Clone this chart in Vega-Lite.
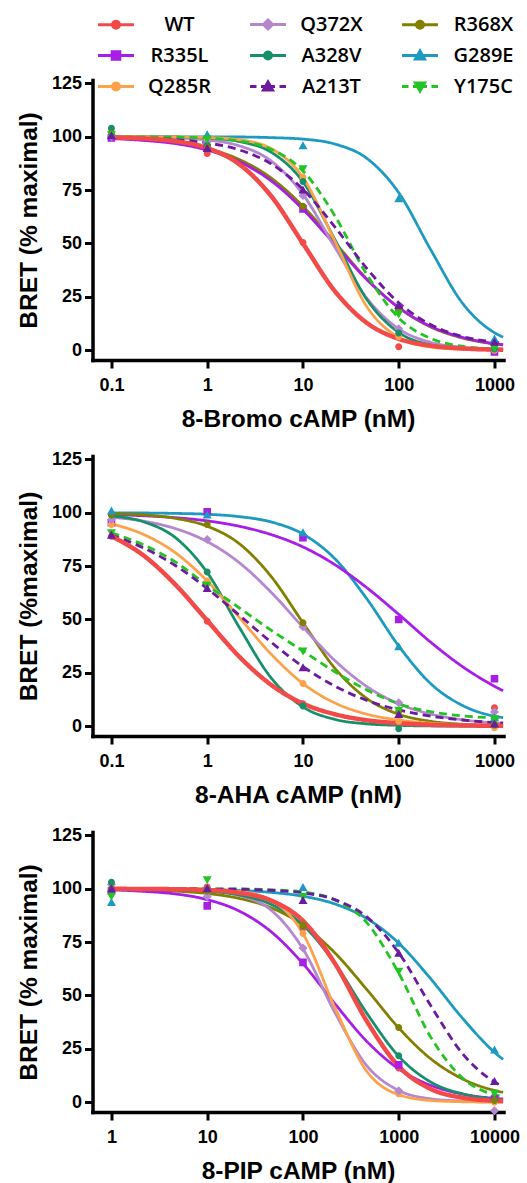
{
"$schema": "https://vega.github.io/schema/vega-lite/v6.json",
"padding": {"left": 15.5, "top": 13, "right": 0, "bottom": 0},
"bounds": "flush",
"spacing": 96,
"config": {
  "font": "Liberation Sans",
  "view": {"stroke": null},
  "axis": {"domainColor": "black", "domainWidth": 3.5, "domainCap": "square", "tickColor": "black", "tickWidth": 3, "tickSize": 8, "labelFont": "Liberation Sans", "labelFontWeight": "bold", "labelFontSize": 18, "labelColor": "black", "titleFont": "Liberation Sans", "titleFontWeight": "bold", "titleFontSize": 24.5, "titleColor": "black", "grid": false, "labelOverlap": false},
  "axisX": {"labelPadding": 8, "titlePadding": 13, "labelFlush": false},
  "axisY": {"labelPadding": 3, "titlePadding": 10}
},
"datasets": {
"c1": [
{"s":"G289E","x":0.1,"y":100},{"s":"G289E","x":0.215,"y":100},{"s":"G289E","x":0.464,"y":100},{"s":"G289E","x":1,"y":99.9},{"s":"G289E","x":2.15,"y":99.9},{"s":"G289E","x":4.64,"y":99.6},{"s":"G289E","x":10,"y":98.9},{"s":"G289E","x":21.5,"y":96.6},{"s":"G289E","x":46.4,"y":89.9},{"s":"G289E","x":100,"y":73.8},{"s":"G289E","x":215,"y":47.2},{"s":"G289E","x":464,"y":22.0},{"s":"G289E","x":1000,"y":8.2},{"s":"G289E","x":1230,"y":6.1},
{"s":"R368X","x":0.1,"y":99.3},{"s":"R368X","x":0.215,"y":98.6},{"s":"R368X","x":0.464,"y":97.2},{"s":"R368X","x":1,"y":94.5},{"s":"R368X","x":2.15,"y":89.4},{"s":"R368X","x":4.64,"y":80.7},{"s":"R368X","x":10,"y":67.4},{"s":"R368X","x":21.5,"y":50.5},{"s":"R368X","x":46.4,"y":33.4},{"s":"R368X","x":100,"y":19.9},{"s":"R368X","x":215,"y":10.9},{"s":"R368X","x":464,"y":5.7},{"s":"R368X","x":1000,"y":2.9},{"s":"R368X","x":1230,"y":2.4},
{"s":"R335L","x":0.1,"y":99.2},{"s":"R335L","x":0.215,"y":98.3},{"s":"R335L","x":0.464,"y":96.8},{"s":"R335L","x":1,"y":93.8},{"s":"R335L","x":2.15,"y":88.4},{"s":"R335L","x":4.64,"y":79.4},{"s":"R335L","x":10,"y":66.0},{"s":"R335L","x":21.5,"y":49.6},{"s":"R335L","x":46.4,"y":33.1},{"s":"R335L","x":100,"y":20.0},{"s":"R335L","x":215,"y":11.2},{"s":"R335L","x":464,"y":6.0},{"s":"R335L","x":1000,"y":3.1},{"s":"R335L","x":1230,"y":2.6},
{"s":"Q372X","x":0.1,"y":99.9},{"s":"Q372X","x":0.215,"y":99.8},{"s":"Q372X","x":0.464,"y":99.5},{"s":"Q372X","x":1,"y":98.5},{"s":"Q372X","x":2.15,"y":95.8},{"s":"Q372X","x":4.64,"y":88.7},{"s":"Q372X","x":10,"y":73.0},{"s":"Q372X","x":21.5,"y":48.3},{"s":"Q372X","x":46.4,"y":24.4},{"s":"Q372X","x":100,"y":10.0},{"s":"Q372X","x":215,"y":3.7},{"s":"Q372X","x":464,"y":1.3},{"s":"Q372X","x":1000,"y":0.5},{"s":"Q372X","x":1230,"y":0.34},
{"s":"A328V","x":0.1,"y":100},{"s":"A328V","x":0.215,"y":99.9},{"s":"A328V","x":0.464,"y":99.8},{"s":"A328V","x":1,"y":99.4},{"s":"A328V","x":2.15,"y":97.8},{"s":"A328V","x":4.64,"y":92.8},{"s":"A328V","x":10,"y":78.9},{"s":"A328V","x":21.5,"y":51.9},{"s":"A328V","x":46.4,"y":23.8},{"s":"A328V","x":100,"y":8.3},{"s":"A328V","x":215,"y":2.5},{"s":"A328V","x":464,"y":0.7},{"s":"A328V","x":1000,"y":0.2},{"s":"A328V","x":1230,"y":0.15},
{"s":"Q285R","x":0.1,"y":100},{"s":"Q285R","x":0.215,"y":100},{"s":"Q285R","x":0.464,"y":99.9},{"s":"Q285R","x":1,"y":99.65},{"s":"Q285R","x":2.15,"y":98.6},{"s":"Q285R","x":4.64,"y":94.5},{"s":"Q285R","x":10,"y":80.9},{"s":"Q285R","x":21.5,"y":51.2},{"s":"Q285R","x":46.4,"y":20.4},{"s":"Q285R","x":100,"y":6.0},{"s":"Q285R","x":215,"y":1.5},{"s":"Q285R","x":464,"y":0.4},{"s":"Q285R","x":1000,"y":0.1},{"s":"Q285R","x":1230,"y":0.06},
{"s":"Y175C","x":0.1,"y":100},{"s":"Y175C","x":0.215,"y":99.9},{"s":"Y175C","x":0.464,"y":99.8},{"s":"Y175C","x":1,"y":99.35},{"s":"Y175C","x":2.15,"y":98.0},{"s":"Y175C","x":4.64,"y":94.2},{"s":"Y175C","x":10,"y":84.0},{"s":"Y175C","x":21.5,"y":63.0},{"s":"Y175C","x":46.4,"y":35.5},{"s":"Y175C","x":100,"y":15.1},{"s":"Y175C","x":215,"y":5.5},{"s":"Y175C","x":464,"y":1.8},{"s":"Y175C","x":1000,"y":0.6},{"s":"Y175C","x":1230,"y":0.44},
{"s":"A213T","x":0.1,"y":99.7},{"s":"A213T","x":0.215,"y":99.4},{"s":"A213T","x":0.464,"y":98.7},{"s":"A213T","x":1,"y":97.1},{"s":"A213T","x":2.15,"y":93.9},{"s":"A213T","x":4.64,"y":87.3},{"s":"A213T","x":10,"y":75.4},{"s":"A213T","x":21.5,"y":57.8},{"s":"A213T","x":46.4,"y":38.3},{"s":"A213T","x":100,"y":22.2},{"s":"A213T","x":215,"y":12.0},{"s":"A213T","x":464,"y":6.4},{"s":"A213T","x":1000,"y":3.8},{"s":"A213T","x":1230,"y":3.3},
{"s":"WT","x":0.1,"y":99.7},{"s":"WT","x":0.215,"y":99.2},{"s":"WT","x":0.464,"y":97.9},{"s":"WT","x":1,"y":94.7},{"s":"WT","x":2.15,"y":87.2},{"s":"WT","x":4.64,"y":72.3},{"s":"WT","x":10,"y":50},{"s":"WT","x":21.5,"y":27.7},{"s":"WT","x":46.4,"y":12.8},{"s":"WT","x":100,"y":5.3},{"s":"WT","x":215,"y":2.1},{"s":"WT","x":464,"y":0.8},{"s":"WT","x":1000,"y":0.3},{"s":"WT","x":1230,"y":0.24}
],
"c2": [
{"s":"G289E","x":0.1,"y":99.95},{"s":"G289E","x":0.215,"y":99.9},{"s":"G289E","x":0.464,"y":99.7},{"s":"G289E","x":1,"y":99.3},{"s":"G289E","x":2.15,"y":98.2},{"s":"G289E","x":4.64,"y":95.7},{"s":"G289E","x":10,"y":90.0},{"s":"G289E","x":21.5,"y":78.5},{"s":"G289E","x":46.4,"y":59.7},{"s":"G289E","x":100,"y":37.6},{"s":"G289E","x":215,"y":20.0},{"s":"G289E","x":464,"y":9.7},{"s":"G289E","x":1000,"y":4.7},{"s":"G289E","x":1230,"y":4.0},
{"s":"R335L","x":0.1,"y":99.2},{"s":"R335L","x":0.215,"y":98.6},{"s":"R335L","x":0.464,"y":97.7},{"s":"R335L","x":1,"y":96.2},{"s":"R335L","x":2.15,"y":93.7},{"s":"R335L","x":4.64,"y":89.8},{"s":"R335L","x":10,"y":84.0},{"s":"R335L","x":21.5,"y":75.7},{"s":"R335L","x":46.4,"y":64.9},{"s":"R335L","x":100,"y":52.4},{"s":"R335L","x":215,"y":39.4},{"s":"R335L","x":464,"y":27.9},{"s":"R335L","x":1000,"y":18.7},{"s":"R335L","x":1230,"y":16.6},
{"s":"R368X","x":0.1,"y":99.6},{"s":"R368X","x":0.215,"y":99.0},{"s":"R368X","x":0.464,"y":97.4},{"s":"R368X","x":1,"y":93.7},{"s":"R368X","x":2.15,"y":85.6},{"s":"R368X","x":4.64,"y":70.2},{"s":"R368X","x":10,"y":48.5},{"s":"R368X","x":21.5,"y":27.2},{"s":"R368X","x":46.4,"y":13.0},{"s":"R368X","x":100,"y":5.6},{"s":"R368X","x":215,"y":2.3},{"s":"R368X","x":464,"y":0.9},{"s":"R368X","x":1000,"y":0.4},{"s":"R368X","x":1230,"y":0.3},
{"s":"Q372X","x":0.1,"y":97.9},{"s":"Q372X","x":0.215,"y":96.1},{"s":"Q372X","x":0.464,"y":92.6},{"s":"Q372X","x":1,"y":86.5},{"s":"Q372X","x":2.15,"y":76.7},{"s":"Q372X","x":4.64,"y":62.8},{"s":"Q372X","x":10,"y":46.4},{"s":"Q372X","x":21.5,"y":30.8},{"s":"Q372X","x":46.4,"y":18.6},{"s":"Q372X","x":100,"y":10.5},{"s":"Q372X","x":215,"y":5.7},{"s":"Q372X","x":464,"y":3.0},{"s":"Q372X","x":1000,"y":1.55},{"s":"Q372X","x":1230,"y":1.3},
{"s":"A328V","x":0.1,"y":98.5},{"s":"A328V","x":0.215,"y":95.8},{"s":"A328V","x":0.464,"y":88.4},{"s":"A328V","x":1,"y":72.0},{"s":"A328V","x":2.15,"y":46.5},{"s":"A328V","x":4.64,"y":22.7},{"s":"A328V","x":10,"y":9.0},{"s":"A328V","x":21.5,"y":3.2},{"s":"A328V","x":46.4,"y":1.1},{"s":"A328V","x":100,"y":0.4},{"s":"A328V","x":215,"y":0.1},{"s":"A328V","x":464,"y":0.04},{"s":"A328V","x":1000,"y":0.01},{"s":"A328V","x":1230,"y":0.01},
{"s":"Q285R","x":0.1,"y":94.8},{"s":"Q285R","x":0.215,"y":89.9},{"s":"Q285R","x":0.464,"y":81.3},{"s":"Q285R","x":1,"y":68.0},{"s":"Q285R","x":2.15,"y":51.1},{"s":"Q285R","x":4.64,"y":33.8},{"s":"Q285R","x":10,"y":20.0},{"s":"Q285R","x":21.5,"y":10.9},{"s":"Q285R","x":46.4,"y":5.65},{"s":"Q285R","x":100,"y":2.9},{"s":"Q285R","x":215,"y":1.4},{"s":"Q285R","x":464,"y":0.7},{"s":"Q285R","x":1000,"y":0.34},{"s":"Q285R","x":1230,"y":0.28},
{"s":"Y175C","x":0.1,"y":90.6},{"s":"Y175C","x":0.215,"y":85},{"s":"Y175C","x":0.464,"y":77},{"s":"Y175C","x":1,"y":66},{"s":"Y175C","x":2.15,"y":55.5},{"s":"Y175C","x":4.64,"y":45},{"s":"Y175C","x":10,"y":35.2},{"s":"Y175C","x":21.5,"y":25.5},{"s":"Y175C","x":46.4,"y":17},{"s":"Y175C","x":100,"y":10.5},{"s":"Y175C","x":215,"y":6.8},{"s":"Y175C","x":464,"y":4.8},{"s":"Y175C","x":1000,"y":3.9},{"s":"Y175C","x":1230,"y":3.7},
{"s":"A213T","x":0.1,"y":89.5},{"s":"A213T","x":0.215,"y":83.6},{"s":"A213T","x":0.464,"y":75.3},{"s":"A213T","x":1,"y":64.5},{"s":"A213T","x":2.15,"y":52.1},{"s":"A213T","x":4.64,"y":39.4},{"s":"A213T","x":10,"y":27.9},{"s":"A213T","x":21.5,"y":18.8},{"s":"A213T","x":46.4,"y":12.1},{"s":"A213T","x":100,"y":7.6},{"s":"A213T","x":215,"y":4.7},{"s":"A213T","x":464,"y":2.9},{"s":"A213T","x":1000,"y":1.7},{"s":"A213T","x":1230,"y":1.5},
{"s":"WT","x":0.1,"y":89.0},{"s":"WT","x":0.215,"y":80.1},{"s":"WT","x":0.464,"y":66.4},{"s":"WT","x":1,"y":49.5},{"s":"WT","x":2.15,"y":32.7},{"s":"WT","x":4.64,"y":19.4},{"s":"WT","x":10,"y":10.6},{"s":"WT","x":21.5,"y":5.6},{"s":"WT","x":46.4,"y":2.8},{"s":"WT","x":100,"y":1.4},{"s":"WT","x":215,"y":0.7},{"s":"WT","x":464,"y":0.35},{"s":"WT","x":1000,"y":0.18},{"s":"WT","x":1230,"y":0.14}
],
"c3": [
{"s":"G289E","x":1,"y":100},{"s":"G289E","x":2.15,"y":99.9},{"s":"G289E","x":4.64,"y":99.8},{"s":"G289E","x":10,"y":99.6},{"s":"G289E","x":21.5,"y":99.2},{"s":"G289E","x":46.4,"y":98.3},{"s":"G289E","x":100,"y":96.5},{"s":"G289E","x":215,"y":92.9},{"s":"G289E","x":464,"y":86.1},{"s":"G289E","x":1000,"y":74.5},{"s":"G289E","x":2150,"y":57.9},{"s":"G289E","x":4640,"y":39.3},{"s":"G289E","x":10000,"y":23.4},{"s":"G289E","x":12300,"y":20.0},
{"s":"R368X","x":1,"y":99.75},{"s":"R368X","x":2.15,"y":99.5},{"s":"R368X","x":4.64,"y":98.9},{"s":"R368X","x":10,"y":97.8},{"s":"R368X","x":21.5,"y":95.5},{"s":"R368X","x":46.4,"y":91.1},{"s":"R368X","x":100,"y":83.0},{"s":"R368X","x":215,"y":70.0},{"s":"R368X","x":464,"y":52.8},{"s":"R368X","x":1000,"y":34.8},{"s":"R368X","x":2150,"y":20.4},{"s":"R368X","x":4640,"y":10.9},{"s":"R368X","x":10000,"y":5.5},{"s":"R368X","x":12300,"y":4.6},
{"s":"R335L","x":1,"y":99.5},{"s":"R335L","x":2.15,"y":98.8},{"s":"R335L","x":4.64,"y":97.6},{"s":"R335L","x":10,"y":94.9},{"s":"R335L","x":21.5,"y":89.6},{"s":"R335L","x":46.4,"y":79.9},{"s":"R335L","x":100,"y":64.9},{"s":"R335L","x":215,"y":46.2},{"s":"R335L","x":464,"y":28.5},{"s":"R335L","x":1000,"y":15.6},{"s":"R335L","x":2150,"y":7.9},{"s":"R335L","x":4640,"y":3.8},{"s":"R335L","x":10000,"y":1.8},{"s":"R335L","x":12300,"y":1.5},
{"s":"Q372X","x":1,"y":100},{"s":"Q372X","x":2.15,"y":99.9},{"s":"Q372X","x":4.64,"y":99.7},{"s":"Q372X","x":10,"y":99.1},{"s":"Q372X","x":21.5,"y":96.9},{"s":"Q372X","x":46.4,"y":90.0},{"s":"Q372X","x":100,"y":71.8},{"s":"Q372X","x":215,"y":42.1},{"s":"Q372X","x":464,"y":17.1},{"s":"Q372X","x":1000,"y":5.5},{"s":"Q372X","x":2150,"y":1.6},{"s":"Q372X","x":4640,"y":0.5},{"s":"Q372X","x":10000,"y":0.1},{"s":"Q372X","x":12300,"y":0.1},
{"s":"A328V","x":1,"y":99.9},{"s":"A328V","x":2.15,"y":99.8},{"s":"A328V","x":4.64,"y":99.6},{"s":"A328V","x":10,"y":98.9},{"s":"A328V","x":21.5,"y":97.1},{"s":"A328V","x":46.4,"y":92.7},{"s":"A328V","x":100,"y":83.0},{"s":"A328V","x":215,"y":65.1},{"s":"A328V","x":464,"y":41.7},{"s":"A328V","x":1000,"y":21.5},{"s":"A328V","x":2150,"y":9.5},{"s":"A328V","x":4640,"y":3.9},{"s":"A328V","x":10000,"y":1.5},{"s":"A328V","x":12300,"y":1.2},
{"s":"Q285R","x":1,"y":100},{"s":"Q285R","x":2.15,"y":100},{"s":"Q285R","x":4.64,"y":99.9},{"s":"Q285R","x":10,"y":99.7},{"s":"Q285R","x":21.5,"y":98.8},{"s":"Q285R","x":46.4,"y":94.7},{"s":"Q285R","x":100,"y":79.0},{"s":"Q285R","x":215,"y":44.4},{"s":"Q285R","x":464,"y":14.5},{"s":"Q285R","x":1000,"y":3.5},{"s":"Q285R","x":2150,"y":0.8},{"s":"Q285R","x":4640,"y":0.2},{"s":"Q285R","x":10000,"y":0.03},{"s":"Q285R","x":12300,"y":0.02},
{"s":"Y175C","x":1,"y":100},{"s":"Y175C","x":2.15,"y":100},{"s":"Y175C","x":4.64,"y":100},{"s":"Y175C","x":10,"y":100},{"s":"Y175C","x":21.5,"y":99.9},{"s":"Y175C","x":46.4,"y":99.5},{"s":"Y175C","x":100,"y":98.5},{"s":"Y175C","x":215,"y":94.8},{"s":"Y175C","x":464,"y":84.1},{"s":"Y175C","x":1000,"y":60.5},{"s":"Y175C","x":2150,"y":30.6},{"s":"Y175C","x":4640,"y":11.3},{"s":"Y175C","x":10000,"y":3.5},{"s":"Y175C","x":12300,"y":2.6},
{"s":"A213T","x":1,"y":100},{"s":"A213T","x":2.15,"y":100},{"s":"A213T","x":4.64,"y":100},{"s":"A213T","x":10,"y":99.9},{"s":"A213T","x":21.5,"y":99.8},{"s":"A213T","x":46.4,"y":99.3},{"s":"A213T","x":100,"y":98.1},{"s":"A213T","x":215,"y":94.9},{"s":"A213T","x":464,"y":86.8},{"s":"A213T","x":1000,"y":70.0},{"s":"A213T","x":2150,"y":45.4},{"s":"A213T","x":4640,"y":22.7},{"s":"A213T","x":10000,"y":9.5},{"s":"A213T","x":12300,"y":7.3},
{"s":"WT","x":1,"y":100},{"s":"WT","x":2.15,"y":99.9},{"s":"WT","x":4.64,"y":99.8},{"s":"WT","x":10,"y":99.4},{"s":"WT","x":21.5,"y":98.1},{"s":"WT","x":46.4,"y":94.5},{"s":"WT","x":100,"y":85.0},{"s":"WT","x":215,"y":65.1},{"s":"WT","x":464,"y":38.0},{"s":"WT","x":1000,"y":16.8},{"s":"WT","x":2150,"y":6.2},{"s":"WT","x":4640,"y":2.1},{"s":"WT","x":10000,"y":0.7},{"s":"WT","x":12300,"y":0.5}
],
"m1": [
{"s":"WT","x":0.1,"y":100},{"s":"WT","x":1,"y":92.2},{"s":"WT","x":10,"y":50.5},{"s":"WT","x":100,"y":1.6},{"s":"WT","x":1000,"y":0.3},
{"s":"R335L","x":0.1,"y":99.5},{"s":"R335L","x":1,"y":94.8},{"s":"R335L","x":10,"y":66.2},{"s":"R335L","x":100,"y":20},{"s":"R335L","x":1000,"y":-0.8},
{"s":"Q285R","x":0.1,"y":102.5},{"s":"Q285R","x":1,"y":99},{"s":"Q285R","x":10,"y":81},{"s":"Q285R","x":100,"y":6.3},{"s":"Q285R","x":1000,"y":0},
{"s":"Q372X","x":0.1,"y":100},{"s":"Q372X","x":1,"y":97.5},{"s":"Q372X","x":10,"y":72.5},{"s":"Q372X","x":100,"y":10},{"s":"Q372X","x":1000,"y":1},
{"s":"A328V","x":0.1,"y":104},{"s":"A328V","x":1,"y":96},{"s":"A328V","x":10,"y":79},{"s":"A328V","x":100,"y":8},{"s":"A328V","x":1000,"y":0.5},
{"s":"R368X","x":0.1,"y":101.5},{"s":"R368X","x":1,"y":95},{"s":"R368X","x":10,"y":67.5},{"s":"R368X","x":100,"y":19},{"s":"R368X","x":1000,"y":2},
{"s":"G289E","x":0.1,"y":101},{"s":"G289E","x":1,"y":101},{"s":"G289E","x":10,"y":95.8},{"s":"G289E","x":100,"y":70.9},{"s":"G289E","x":1000,"y":5.2},
{"s":"Y175C","x":0.1,"y":101},{"s":"Y175C","x":1,"y":99},{"s":"Y175C","x":10,"y":85},{"s":"Y175C","x":100,"y":17},{"s":"Y175C","x":1000,"y":1},
{"s":"A213T","x":0.1,"y":100.5},{"s":"A213T","x":1,"y":94.5},{"s":"A213T","x":10,"y":75},{"s":"A213T","x":100,"y":20.9},{"s":"A213T","x":1000,"y":3.7}
],
"m2": [
{"s":"WT","x":0.1,"y":89},{"s":"WT","x":1,"y":49.2},{"s":"WT","x":10,"y":10.5},{"s":"WT","x":100,"y":1.5},{"s":"WT","x":1000,"y":8.6},
{"s":"R335L","x":0.1,"y":95.3},{"s":"R335L","x":1,"y":100.5},{"s":"R335L","x":10,"y":88.3},{"s":"R335L","x":100,"y":50},{"s":"R335L","x":1000,"y":22.2},
{"s":"Q285R","x":0.1,"y":94.5},{"s":"Q285R","x":1,"y":68},{"s":"Q285R","x":10,"y":20},{"s":"Q285R","x":100,"y":2.3},{"s":"Q285R","x":1000,"y":-0.7},
{"s":"Q372X","x":0.1,"y":96.9},{"s":"Q372X","x":1,"y":87.5},{"s":"Q372X","x":10,"y":46.6},{"s":"Q372X","x":100,"y":11},{"s":"Q372X","x":1000,"y":6.6},
{"s":"A328V","x":0.1,"y":99},{"s":"A328V","x":1,"y":72.2},{"s":"A328V","x":10,"y":9.4},{"s":"A328V","x":100,"y":-1.2},{"s":"A328V","x":1000,"y":0.5},
{"s":"R368X","x":0.1,"y":99.2},{"s":"R368X","x":1,"y":94.5},{"s":"R368X","x":10,"y":48.5},{"s":"R368X","x":100,"y":7},{"s":"R368X","x":1000,"y":1},
{"s":"G289E","x":0.1,"y":100.8},{"s":"G289E","x":1,"y":99},{"s":"G289E","x":10,"y":90.6},{"s":"G289E","x":100,"y":37.2},{"s":"G289E","x":1000,"y":4},
{"s":"Y175C","x":0.1,"y":90.6},{"s":"Y175C","x":1,"y":66},{"s":"Y175C","x":10,"y":35.2},{"s":"Y175C","x":100,"y":7.5},{"s":"Y175C","x":1000,"y":3.5},
{"s":"A213T","x":0.1,"y":89.5},{"s":"A213T","x":1,"y":64.5},{"s":"A213T","x":10,"y":27.4},{"s":"A213T","x":100,"y":5.5},{"s":"A213T","x":1000,"y":1}
],
"m3": [
{"s":"WT","x":1,"y":99},{"s":"WT","x":10,"y":100.8},{"s":"WT","x":100,"y":81.5},{"s":"WT","x":1000,"y":16},{"s":"WT","x":10000,"y":0.5},
{"s":"R335L","x":1,"y":99},{"s":"R335L","x":10,"y":92},{"s":"R335L","x":100,"y":65.5},{"s":"R335L","x":1000,"y":17.5},{"s":"R335L","x":10000,"y":1.5},
{"s":"Q285R","x":1,"y":102.5},{"s":"Q285R","x":10,"y":98.6},{"s":"Q285R","x":100,"y":79},{"s":"Q285R","x":1000,"y":3.9},{"s":"Q285R","x":10000,"y":0},
{"s":"Q372X","x":1,"y":102},{"s":"Q372X","x":10,"y":96.4},{"s":"Q372X","x":100,"y":72.2},{"s":"Q372X","x":1000,"y":5.3},{"s":"Q372X","x":10000,"y":-4},
{"s":"A328V","x":1,"y":103},{"s":"A328V","x":10,"y":99.5},{"s":"A328V","x":100,"y":82.7},{"s":"A328V","x":1000,"y":21.7},{"s":"A328V","x":10000,"y":1},
{"s":"R368X","x":1,"y":100},{"s":"R368X","x":10,"y":99},{"s":"R368X","x":100,"y":83},{"s":"R368X","x":1000,"y":35},{"s":"R368X","x":10000,"y":0.8},
{"s":"G289E","x":1,"y":93.6},{"s":"G289E","x":10,"y":100},{"s":"G289E","x":100,"y":100.6},{"s":"G289E","x":1000,"y":74.5},{"s":"G289E","x":10000,"y":24.5},
{"s":"Y175C","x":1,"y":96.5},{"s":"Y175C","x":10,"y":104.2},{"s":"Y175C","x":100,"y":96.4},{"s":"Y175C","x":1000,"y":61.3},{"s":"Y175C","x":10000,"y":4.2},
{"s":"A213T","x":1,"y":100},{"s":"A213T","x":10,"y":100},{"s":"A213T","x":100,"y":94.5},{"s":"A213T","x":1000,"y":69.8},{"s":"A213T","x":10000,"y":9.7}
]
},
"vconcat": [
{
 "width": 411, "height": 280,
 "encoding": {
  "x": {"field": "x", "type": "quantitative", "title": "8-Bromo cAMP (nM)", "scale": {"type": "log", "domain": [0.0634, 1242], "nice": false}, "axis": {"values": [0.1, 1, 10, 100, 1000], "format": "~g"}},
  "y": {"field": "y", "type": "quantitative", "title": "BRET (% maximal)", "scale": {"domain": [-4.6, 126.6], "nice": false, "zero": false}, "axis": {"values": [0, 25, 50, 75, 100, 125]}}
 },
 "layer": [
  {"data": {"name": "c1"}, "mark": {"type": "line", "interpolate": "monotone"},
   "encoding": {
    "color": {"field": "s", "type": "nominal", "scale": {"domain": ["WT","Q372X","R368X","R335L","A328V","G289E","Q285R","A213T","Y175C"], "range": ["#F24A48","#B487CF","#828000","#A81EE6","#16906A","#1D9AC0","#FDA24B","#6A1BA0","#23C423"]},
      "legend": {"title": null, "orient": "none", "legendX": 12, "legendY": -67, "direction": "horizontal", "columns": 3, "gridAlign": "all", "columnPadding": 32, "rowPadding": 9, "padding": 0, "symbolSize": 400, "symbolStrokeWidth": 3, "labelOffset": 52, "labelAlign": "center", "labelFont": "Open Sans", "labelFontWeight": 600, "labelFontSize": 20, "labelColor": "black"}},
    "strokeDash": {"field": "s", "type": "nominal", "scale": {"domain": ["A213T","A328V","G289E","Q285R","Q372X","R335L","R368X","WT","Y175C"], "range": [[8,5],[1,0],[1,0],[1,0],[1,0],[1,0],[1,0],[1,0],[8,5]]}, "legend": null},
    "strokeWidth": {"field": "s", "type": "nominal", "scale": {"type": "ordinal", "domain": ["A213T","A328V","G289E","Q285R","Q372X","R335L","R368X","WT","Y175C"], "range": [2.8,2.8,2.8,2.8,2.8,2.8,2.8,4.5,2.8]}, "legend": null}
   }},
  {"data": {"name": "m1"}, "mark": {"type": "point", "filled": true, "size": 400, "opacity": 1},
   "encoding": {
    "color": {"field": "s", "type": "nominal"},
    "shape": {"field": "s", "type": "nominal", "scale": {"domain": ["WT","Q372X","R368X","R335L","A328V","G289E","Q285R","A213T","Y175C"], "range": [
      "M-1.8,0L1.8,0M0.35,0A0.35,0.35,0,1,1,-0.35,0A0.35,0.35,0,1,1,0.35,0Z",
      "M-1.8,0L1.8,0M0,-0.45L0.45,0L0,0.45L-0.45,0Z",
      "M-1.8,0L1.8,0M0.35,0A0.35,0.35,0,1,1,-0.35,0A0.35,0.35,0,1,1,0.35,0Z",
      "M-1.8,0L1.8,0M-0.38,-0.38L0.38,-0.38L0.38,0.38L-0.38,0.38Z",
      "M-1.8,0L1.8,0M0.35,0A0.35,0.35,0,1,1,-0.35,0A0.35,0.35,0,1,1,0.35,0Z",
      "M-1.8,0L1.8,0M0,-0.45L0.45,0.35L-0.45,0.35Z",
      "M-1.8,0L1.8,0M0.35,0A0.35,0.35,0,1,1,-0.35,0A0.35,0.35,0,1,1,0.35,0Z",
      "M-1.8,0L-1.15,0M-0.7,0L0.7,0M1.15,0L1.8,0M0,-0.45L0.45,0.35L-0.45,0.35Z",
      "M-1.8,0L-1.15,0M-0.7,0L0.7,0M1.15,0L1.8,0M0,0.45L0.45,-0.35L-0.45,-0.35Z"]}, "legend": null}
   }}
 ]
},
{
 "width": 411, "height": 280,
 "encoding": {
  "x": {"field": "x", "type": "quantitative", "title": "8-AHA cAMP (nM)", "scale": {"type": "log", "domain": [0.0634, 1242], "nice": false}, "axis": {"values": [0.1, 1, 10, 100, 1000], "format": "~g"}},
  "y": {"field": "y", "type": "quantitative", "title": "BRET (%maximal)", "scale": {"domain": [-4.6, 126.6], "nice": false, "zero": false}, "axis": {"values": [0, 25, 50, 75, 100, 125]}}
 },
 "layer": [
  {"data": {"name": "c2"}, "mark": {"type": "line", "interpolate": "monotone"},
   "encoding": {
    "color": {"field": "s", "type": "nominal"},
    "strokeDash": {"field": "s", "type": "nominal", "scale": {"domain": ["A213T","A328V","G289E","Q285R","Q372X","R335L","R368X","WT","Y175C"], "range": [[8,5],[1,0],[1,0],[1,0],[1,0],[1,0],[1,0],[1,0],[8,5]]}, "legend": null},
    "strokeWidth": {"field": "s", "type": "nominal", "scale": {"type": "ordinal", "domain": ["A213T","A328V","G289E","Q285R","Q372X","R335L","R368X","WT","Y175C"], "range": [2.8,2.8,2.8,2.8,2.8,2.8,2.8,4.5,2.8]}, "legend": null}
   }},
  {"data": {"name": "m2"}, "mark": {"type": "point", "filled": true, "size": 400, "opacity": 1},
   "encoding": {
    "color": {"field": "s", "type": "nominal"},
    "shape": {"field": "s", "type": "nominal", "legend": null}
   }}
 ]
},
{
 "width": 411, "height": 280,
 "encoding": {
  "x": {"field": "x", "type": "quantitative", "title": "8-PIP cAMP (nM)", "scale": {"type": "log", "domain": [0.634, 12420], "nice": false}, "axis": {"values": [1, 10, 100, 1000, 10000], "format": "~g"}},
  "y": {"field": "y", "type": "quantitative", "title": "BRET (% maximal)", "scale": {"domain": [-4.6, 126.6], "nice": false, "zero": false}, "axis": {"values": [0, 25, 50, 75, 100, 125]}}
 },
 "layer": [
  {"data": {"name": "c3"}, "mark": {"type": "line", "interpolate": "monotone"},
   "encoding": {
    "color": {"field": "s", "type": "nominal"},
    "strokeDash": {"field": "s", "type": "nominal", "scale": {"domain": ["A213T","A328V","G289E","Q285R","Q372X","R335L","R368X","WT","Y175C"], "range": [[8,5],[1,0],[1,0],[1,0],[1,0],[1,0],[1,0],[1,0],[8,5]]}, "legend": null},
    "strokeWidth": {"field": "s", "type": "nominal", "scale": {"type": "ordinal", "domain": ["A213T","A328V","G289E","Q285R","Q372X","R335L","R368X","WT","Y175C"], "range": [2.8,2.8,2.8,2.8,2.8,2.8,2.8,4.5,2.8]}, "legend": null}
   }},
  {"data": {"name": "m3"}, "mark": {"type": "point", "filled": true, "size": 400, "opacity": 1},
   "encoding": {
    "color": {"field": "s", "type": "nominal"},
    "shape": {"field": "s", "type": "nominal", "legend": null}
   }}
 ]
}
]
}
